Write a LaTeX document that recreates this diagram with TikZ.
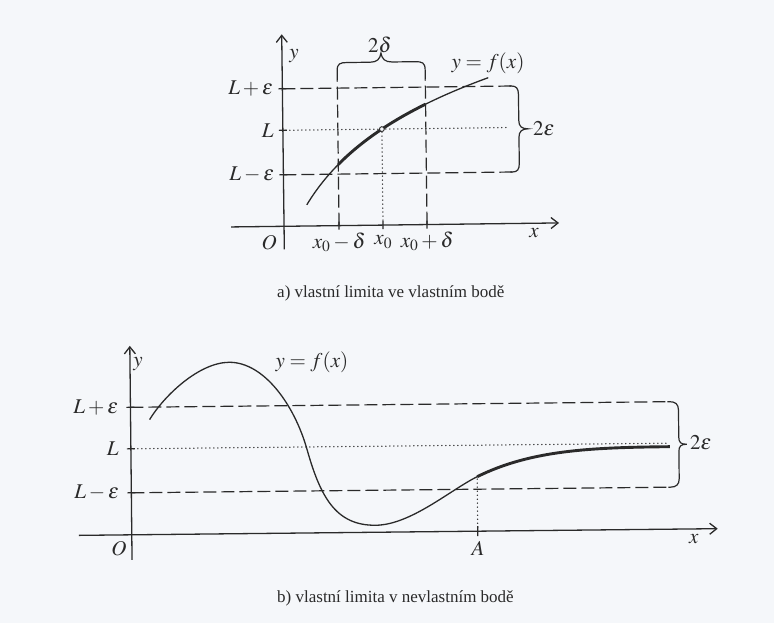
\documentclass[tikz,border=0pt]{standalone}
\usepackage{mathptmx}
\usepackage{fontspec}
\setmainfont{Liberation Serif}
\usetikzlibrary{arrows.meta}
\definecolor{bgc}{HTML}{F5F7FA}
\definecolor{ink}{HTML}{2A2A2A}
\begin{document}
\begin{tikzpicture}[x=1pt,y=-1pt,
  axis/.style={draw=ink, line width=1.3pt, -{Straight Barb[length=7pt,width=11pt]}},
  dsh/.style={draw=ink, line width=1.2pt, dash pattern=on 13pt off 5pt},
  dtt/.style={draw=ink, line width=1.5pt, line cap=round, dash pattern=on 0pt off 4pt},
  crv/.style={draw=ink, line width=1.3pt},
  thk/.style={draw=ink, line width=2.9pt},
  tck/.style={draw=ink, line width=1.2pt},
  brc/.style={draw=ink, line width=1.2pt},
  lbl/.style={text=ink, inner sep=0pt, font=\fontsize{21}{25}\selectfont},
  capt/.style={text=ink, inner sep=0pt, anchor=west, font=\fontsize{17}{20}\selectfont}
]
\fill[bgc] (0,0) rectangle (774,623);
\useasboundingbox (0,0) rectangle (774,623);

% ---------------- top figure ----------------
\begin{scope}[rotate around={0.7:(390,140)}]
  \draw[dsh] (283,87.5) -- (512,87.5);
  \draw[dsh] (283,173.5) -- (512,173.5);
  \draw[dtt] (286,129) -- (508,129);
  \draw[dsh] (338,225) -- (338,80);
  \draw[dsh] (426,225) -- (426,80);
  \draw[dtt] (382,132) -- (382,223);
  % brace 2 delta
  \draw[brc] (338,80) -- (338,70) .. controls (338,63) and (341,62) .. (348,62) -- (371,62)
     .. controls (378,62) and (381,59) .. (382,53) .. controls (383,59) and (386,62) .. (393,62)
     -- (416,62) .. controls (423,62) and (426,63) .. (426,70) -- (426,80);
  % brace 2 epsilon
  \draw[brc] (510,87.5) -- (512,87.5) .. controls (517,87.5) and (519,90) .. (519,96) -- (519,122)
     .. controls (519,128) and (522,130.5) .. (528,130.5) .. controls (522,130.5) and (519,133) .. (519,139)
     -- (519,165) .. controls (519,171) and (517,173.5) .. (512,173.5) -- (510,173.5);
  % axes
  \draw[axis] (283,248) -- (283,33);
  \draw[axis] (230,225) -- (558,225);
  \foreach \yy in {87.5,129,173.5} \draw[tck] (279,\yy) -- (287,\yy);
  \foreach \xx in {338,382,426} \draw[tck] (\xx,221) -- (\xx,229);
  % curve
  \draw[crv] plot[domain=306:489,samples=80] (\x,{526.22-82*ln(\x-255)});
  \draw[thk] plot[domain=338:426,samples=40] (\x,{526.22-82*ln(\x-255)});
  \draw[ink, line width=0.9pt, fill=bgc] (382,129) circle (2.4pt);
  % labels
  \node[lbl, anchor=east] (tlpe) at (274,87.5) {$L+\varepsilon$};
  \node[lbl, anchor=east] (tl) at (274,129) {$L$};
  \node[lbl, anchor=east] (tlme) at (274,173.5) {$L-\varepsilon$};
  \node[lbl] (ty) at (295,55) {$y$};
  \node[lbl] (tf) at (489,64) {$y=f(x)$};
  \node[lbl] (tx) at (533,235) {$x$};
  \node[lbl] (tO) at (268,241) {$O$};
  \node[lbl] (tx1) at (338,242) {$x_0-\delta$};
  \node[lbl] (tx2) at (382,242) {$x_0$};
  \node[lbl] (tx3) at (426,242) {$x_0+\delta$};
  \node[lbl] (t2d) at (381,45) {$2\delta$};
  \node[lbl] (t2e) at (544,131) {$2\varepsilon$};
\end{scope}
\node[capt] (capa) at (277,293) {a) vlastní limita ve vlastním bodě};

% ---------------- bottom figure ----------------
\begin{scope}[rotate around={0.6:(400,460)}]
  \draw[dsh] (131,404.5) -- (670,404.5);
  \draw[dsh] (131,490) -- (670,490);
  \draw[dtt] (134,446) -- (670,446);
  \draw[dtt] (477,480) -- (477,529);
  % brace 2 epsilon
  \draw[brc] (668,404.5) -- (670,404.5) .. controls (676,404.5) and (679,407) .. (679,413) -- (679,440)
     .. controls (679,445.5) and (681,447.25) .. (687,447.25) .. controls (681,447.25) and (679,449) .. (679,454.5)
     -- (679,481.5) .. controls (679,487.5) and (676,490) .. (670,490) -- (668,490);
  % axes
  \draw[axis] (131,557) -- (131,343);
  \draw[axis] (78,532) -- (717,532);
  \foreach \yy in {404.5,446,490} \draw[tck] (127,\yy) -- (135,\yy);
  \draw[tck] (477,527) -- (477,537);
  % curve
  \draw[crv] (150,417) .. controls (165,393) and (200,360.5) .. (230,360.5)
     .. controls (265,360.5) and (295,404) .. (307,448)
     .. controls (320,496) and (335,525) .. (375,525)
     .. controls (410,525) and (450,490.5) .. (477,477.5);
  \draw[thk] (477,477.5) .. controls (531,451.5) and (590,449.5) .. (670,449.5);
  % labels
  \node[lbl, anchor=east] (blpe) at (119,404.5) {$L+\varepsilon$};
  \node[lbl, anchor=east] (bl) at (119,446) {$L$};
  \node[lbl, anchor=east] (blme) at (119,490) {$L-\varepsilon$};
  \node[lbl] (by) at (139,361) {$y$};
  \node[lbl] (bf) at (313,361) {$y=f(x)$};
  \node[lbl] (bx) at (693,542) {$x$};
  \node[lbl] (bO) at (118,546) {$O$};
  \node[lbl] (bA) at (477,549) {$A$};
  \node[lbl] (b2e) at (701,446) {$2\varepsilon$};
\end{scope}
\node[capt] (capb) at (277,598) {b) vlastní limita v nevlastním bodě};
\end{tikzpicture}
\end{document}
